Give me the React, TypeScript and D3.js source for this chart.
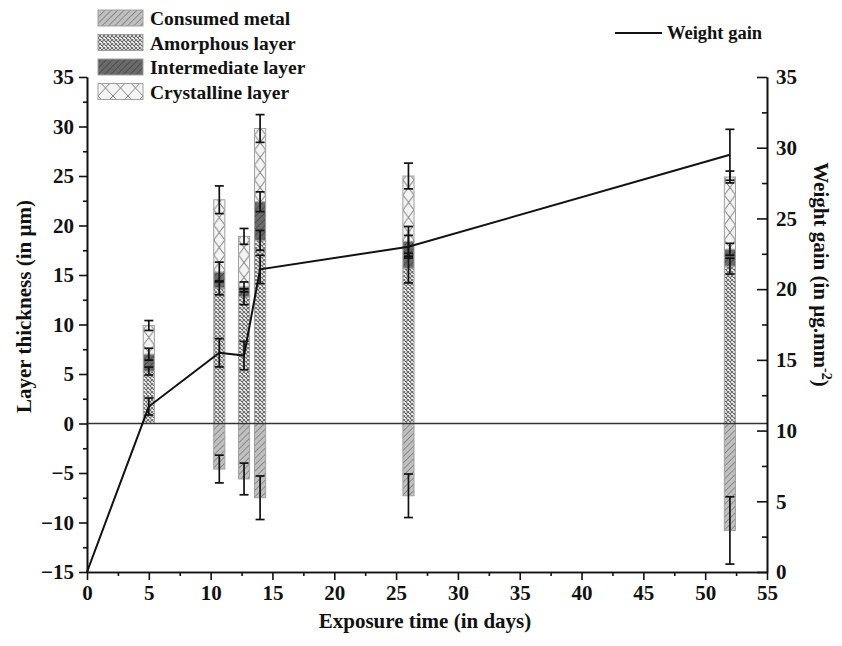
import { useEffect, useRef } from "react";
import * as d3 from "d3";

// layer thicknesses (µm) at each exposure time
const days = [5, 10.7, 12.7, 14, 26, 52];
const consumedMetal = [0, -4.6, -5.6, -7.5, -7.3, -10.8];
const consumedErr = [0, 1.4, 1.6, 2.2, 2.2, 3.4];
const amorphous = [5.3, 13.7, 12.8, 18.5, 15.7, 15.9];
const amorphousErr = [0.4, 0.7, 0.8, 1.0, 1.5, 0.8];
const intermediate = [1.7, 1.6, 1.0, 3.9, 2.7, 1.7];
const intermediateErr = [0.6, 1.0, 0.5, 1.0, 1.5, 0.6];
const crystalline = [2.9, 7.3, 5.1, 7.4, 6.6, 7.3];
const crystallineErr = [0.5, 1.4, 0.8, 1.4, 1.3, 0.6];

// weight gain (µg/mm²)
const weightDays = [0, 5, 10.7, 12.7, 14, 26, 52];
const weightGain = [0, 11.7, 15.5, 15.3, 21.4, 23.0, 29.5];
const weightErr = [0, 0.6, 1.0, 1.0, 1.0, 0.8, 1.8];

const xTicks = d3.range(0, 56, 5);
const leftTicks = d3.range(-15, 36, 5);
const rightTicks = d3.range(0, 36, 5);

const legendNames = ["Consumed metal", "Amorphous layer", "Intermediate layer", "Crystalline layer"];

const FONT = "'Liberation Serif', 'DejaVu Serif', serif";

export default function App() {
  const svgRef = useRef<SVGSVGElement>(null);

  useEffect(() => {
    document.body.style.margin = "0";
    const width = 842;
    const height = 646;
    const left = 87, right = 767, top = 77, bottom = 572;

    const svg = d3.select(svgRef.current);
    svg.selectAll("*").remove();

    const x = d3.scaleLinear().domain([0, 55]).range([left, right]);
    const yL = d3.scaleLinear().domain([-15, 35]).range([bottom, top]);
    const yR = d3.scaleLinear().domain([0, 35]).range([bottom, top]);
    const halfW = 0.45;
    const bw = x(halfW) - x(0);

    const defs = svg.append("defs");

    // hatch patterns
    const hatch = (id: string, bg: string, stroke: string, gap: number, sw: number) => {
      const p = defs.append("pattern").attr("id", id).attr("patternUnits", "userSpaceOnUse")
        .attr("width", gap).attr("height", gap).attr("patternTransform", "rotate(45)");
      p.append("rect").attr("width", gap).attr("height", gap).attr("fill", bg);
      p.append("line").attr("x1", 0).attr("y1", 0).attr("x2", 0).attr("y2", gap)
        .attr("stroke", stroke).attr("stroke-width", sw);
    };
    hatch("consumed", "#c0c0c0", "#6e6e6e", 4.5, 1.3);
    hatch("intermediate", "#6a6a6a", "#3e3e3e", 4.5, 1.3);

    const am = defs.append("pattern").attr("id", "amorphous").attr("patternUnits", "userSpaceOnUse")
      .attr("width", 4).attr("height", 4);
    am.append("rect").attr("width", 4).attr("height", 4).attr("fill", "#fff");
    am.append("path").attr("d", "M0,0L4,4M4,0L0,4").attr("stroke", "#6a6a6a").attr("stroke-width", 1.1);

    const crossPattern = (id: string, px: number, w: number, h: number) => {
      const p = defs.append("pattern").attr("id", id).attr("patternUnits", "userSpaceOnUse")
        .attr("x", px).attr("width", w).attr("height", h);
      p.append("rect").attr("width", w).attr("height", h).attr("fill", "#f4f4f4");
      p.append("path").attr("d", `M0,0L${w},${h}M${w},0L0,${h}`)
        .attr("stroke", "#858585").attr("stroke-width", 1);
    };
    days.forEach((d, i) => crossPattern(`cryst${i}`, x(d - halfW), 2 * bw, 15));
    crossPattern("crystLegend", 98, 15, 16);

    // bars
    const rows = days.map((d, i) => {
      const a = amorphous[i];
      const it = a + intermediate[i];
      const c = it + crystalline[i];
      return { d, i, a, it, c, m: consumedMetal[i] };
    });

    const barG = svg.append("g");
    const seg = (x0: number, v0: number, v1: number, fill: string) => {
      if (v0 === v1) return;
      barG.append("rect")
        .attr("x", x0).attr("width", 2 * bw)
        .attr("y", yL(Math.max(v0, v1))).attr("height", Math.abs(yL(v0) - yL(v1)))
        .attr("fill", fill).attr("stroke", "#a0a0a0").attr("stroke-width", 1);
    };
    rows.forEach((r) => {
      const x0 = x(r.d - halfW);
      seg(x0, r.m, 0, "url(#consumed)");
      seg(x0, 0, r.a, "url(#amorphous)");
      seg(x0, r.a, r.it, "url(#intermediate)");
      seg(x0, r.it, r.c, `url(#cryst${r.i})`);
    });

    // zero line
    svg.append("line").attr("x1", left).attr("x2", right).attr("y1", yL(0)).attr("y2", yL(0))
      .attr("stroke", "#333").attr("stroke-width", 1.5);

    // weight gain line
    const line = d3.line<number>().x((_, i) => x(weightDays[i])).y((v) => yR(v));
    svg.append("path").datum(weightGain).attr("d", line).attr("fill", "none")
      .attr("stroke", "#111").attr("stroke-width", 2);

    // error bars
    const errG = svg.append("g").attr("stroke", "#111").attr("stroke-width", 1.7);
    const errBar = (cx: number, y0: number, y1: number) => {
      const cap = 4.5;
      errG.append("line").attr("x1", cx).attr("x2", cx).attr("y1", y0).attr("y2", y1);
      errG.append("line").attr("x1", cx - cap).attr("x2", cx + cap).attr("y1", y0).attr("y2", y0);
      errG.append("line").attr("x1", cx - cap).attr("x2", cx + cap).attr("y1", y1).attr("y2", y1);
    };
    rows.forEach((r) => {
      const cx = x(r.d);
      if (consumedErr[r.i]) errBar(cx, yL(r.m - consumedErr[r.i]), yL(r.m + consumedErr[r.i]));
      errBar(cx, yL(r.a - amorphousErr[r.i]), yL(r.a + amorphousErr[r.i]));
      errBar(cx, yL(r.it - intermediateErr[r.i]), yL(r.it + intermediateErr[r.i]));
      errBar(cx, yL(r.c - crystallineErr[r.i]), yL(r.c + crystallineErr[r.i]));
    });
    weightGain.forEach((v, i) => {
      if (!weightErr[i]) return;
      errBar(x(weightDays[i]), yR(v - weightErr[i]), yR(v + weightErr[i]));
    });

    // axes
    const styleAxis = (g: d3.Selection<SVGGElement, unknown, null, undefined>) => {
      g.selectAll("path,line").attr("stroke", "#111").attr("stroke-width", 1.6);
      g.selectAll("text").attr("font-family", FONT).attr("font-size", 21)
        .attr("font-weight", "bold").attr("fill", "#111");
    };
    const minor = (vals: number[]) => vals.map((v) => v + 2.5).filter((v) => v < vals[vals.length - 1]);

    svg.append("g").attr("transform", `translate(${left},0)`)
      .call(d3.axisLeft(yL).tickValues(leftTicks).tickSize(8).tickSizeOuter(0).tickPadding(5))
      .call(styleAxis);
    svg.append("g").attr("transform", `translate(${left},0)`)
      .call(d3.axisLeft(yL).tickValues(minor(leftTicks)).tickSize(4).tickSizeOuter(0).tickFormat(() => ""))
      .call(styleAxis);

    svg.append("g").attr("transform", `translate(0,${bottom})`)
      .call(d3.axisBottom(x).tickValues(xTicks).tickSize(8).tickSizeOuter(0).tickPadding(5))
      .call(styleAxis);
    svg.append("g").attr("transform", `translate(0,${bottom})`)
      .call(d3.axisBottom(x).tickValues(minor(xTicks)).tickSize(4).tickSizeOuter(0).tickFormat(() => ""))
      .call(styleAxis);

    svg.append("g").attr("transform", `translate(${right},0)`)
      .call(d3.axisRight(yR).tickValues(rightTicks).tickSizeInner(-10).tickSizeOuter(0).tickPadding(9))
      .call(styleAxis);
    svg.append("g").attr("transform", `translate(${right},0)`)
      .call(d3.axisRight(yR).tickValues(minor(rightTicks)).tickSizeInner(-5).tickSizeOuter(0).tickFormat(() => ""))
      .call(styleAxis);

    // axis titles
    const title = (t: d3.Selection<SVGTextElement, unknown, null, undefined>) =>
      t.attr("font-family", FONT).attr("font-size", 21).attr("font-weight", "bold")
        .attr("fill", "#111").attr("text-anchor", "middle");

    svg.append("text").attr("x", (left + right) / 2 - 2).attr("y", 628)
      .text("Exposure time (in days)").call(title);
    svg.append("text").attr("transform", `translate(31,${(top + bottom) / 2 - 18}) rotate(-90)`)
      .text("Layer thickness (in µm)").call(title);
    const rt = svg.append("text").attr("transform", `translate(814,${(top + bottom) / 2 - 50}) rotate(90)`)
      .call(title);
    rt.append("tspan").text("Weight gain (in µg.mm");
    rt.append("tspan").attr("dy", -8).attr("font-size", 14).text("-2");
    rt.append("tspan").attr("dy", 8).text(")");

    // legend
    const legendFills = ["url(#consumed)", "url(#amorphous)", "url(#intermediate)", "url(#crystLegend)"];
    const lg = svg.append("g");
    legendNames.forEach((name, i) => {
      const yy = 10 + i * 24.5;
      lg.append("rect").attr("x", 98).attr("y", yy).attr("width", 45).attr("height", 16)
        .attr("fill", legendFills[i]).attr("stroke", "#a0a0a0");
      lg.append("text").attr("x", 150).attr("y", yy + 15).text(name)
        .attr("font-family", FONT).attr("font-size", 19.5).attr("font-weight", "bold").attr("fill", "#111");
    });
    lg.append("line").attr("x1", 615).attr("x2", 662).attr("y1", 33).attr("y2", 33)
      .attr("stroke", "#111").attr("stroke-width", 2);
    lg.append("text").attr("x", 667).attr("y", 39).text("Weight gain")
      .attr("font-family", FONT).attr("font-size", 18.5).attr("font-weight", "bold").attr("fill", "#111");

    svg.attr("width", width).attr("height", height);
  }, []);

  return (
    <svg ref={svgRef} width={842} height={646} style={{ display: "block", background: "#fff" }} />
  );
}
